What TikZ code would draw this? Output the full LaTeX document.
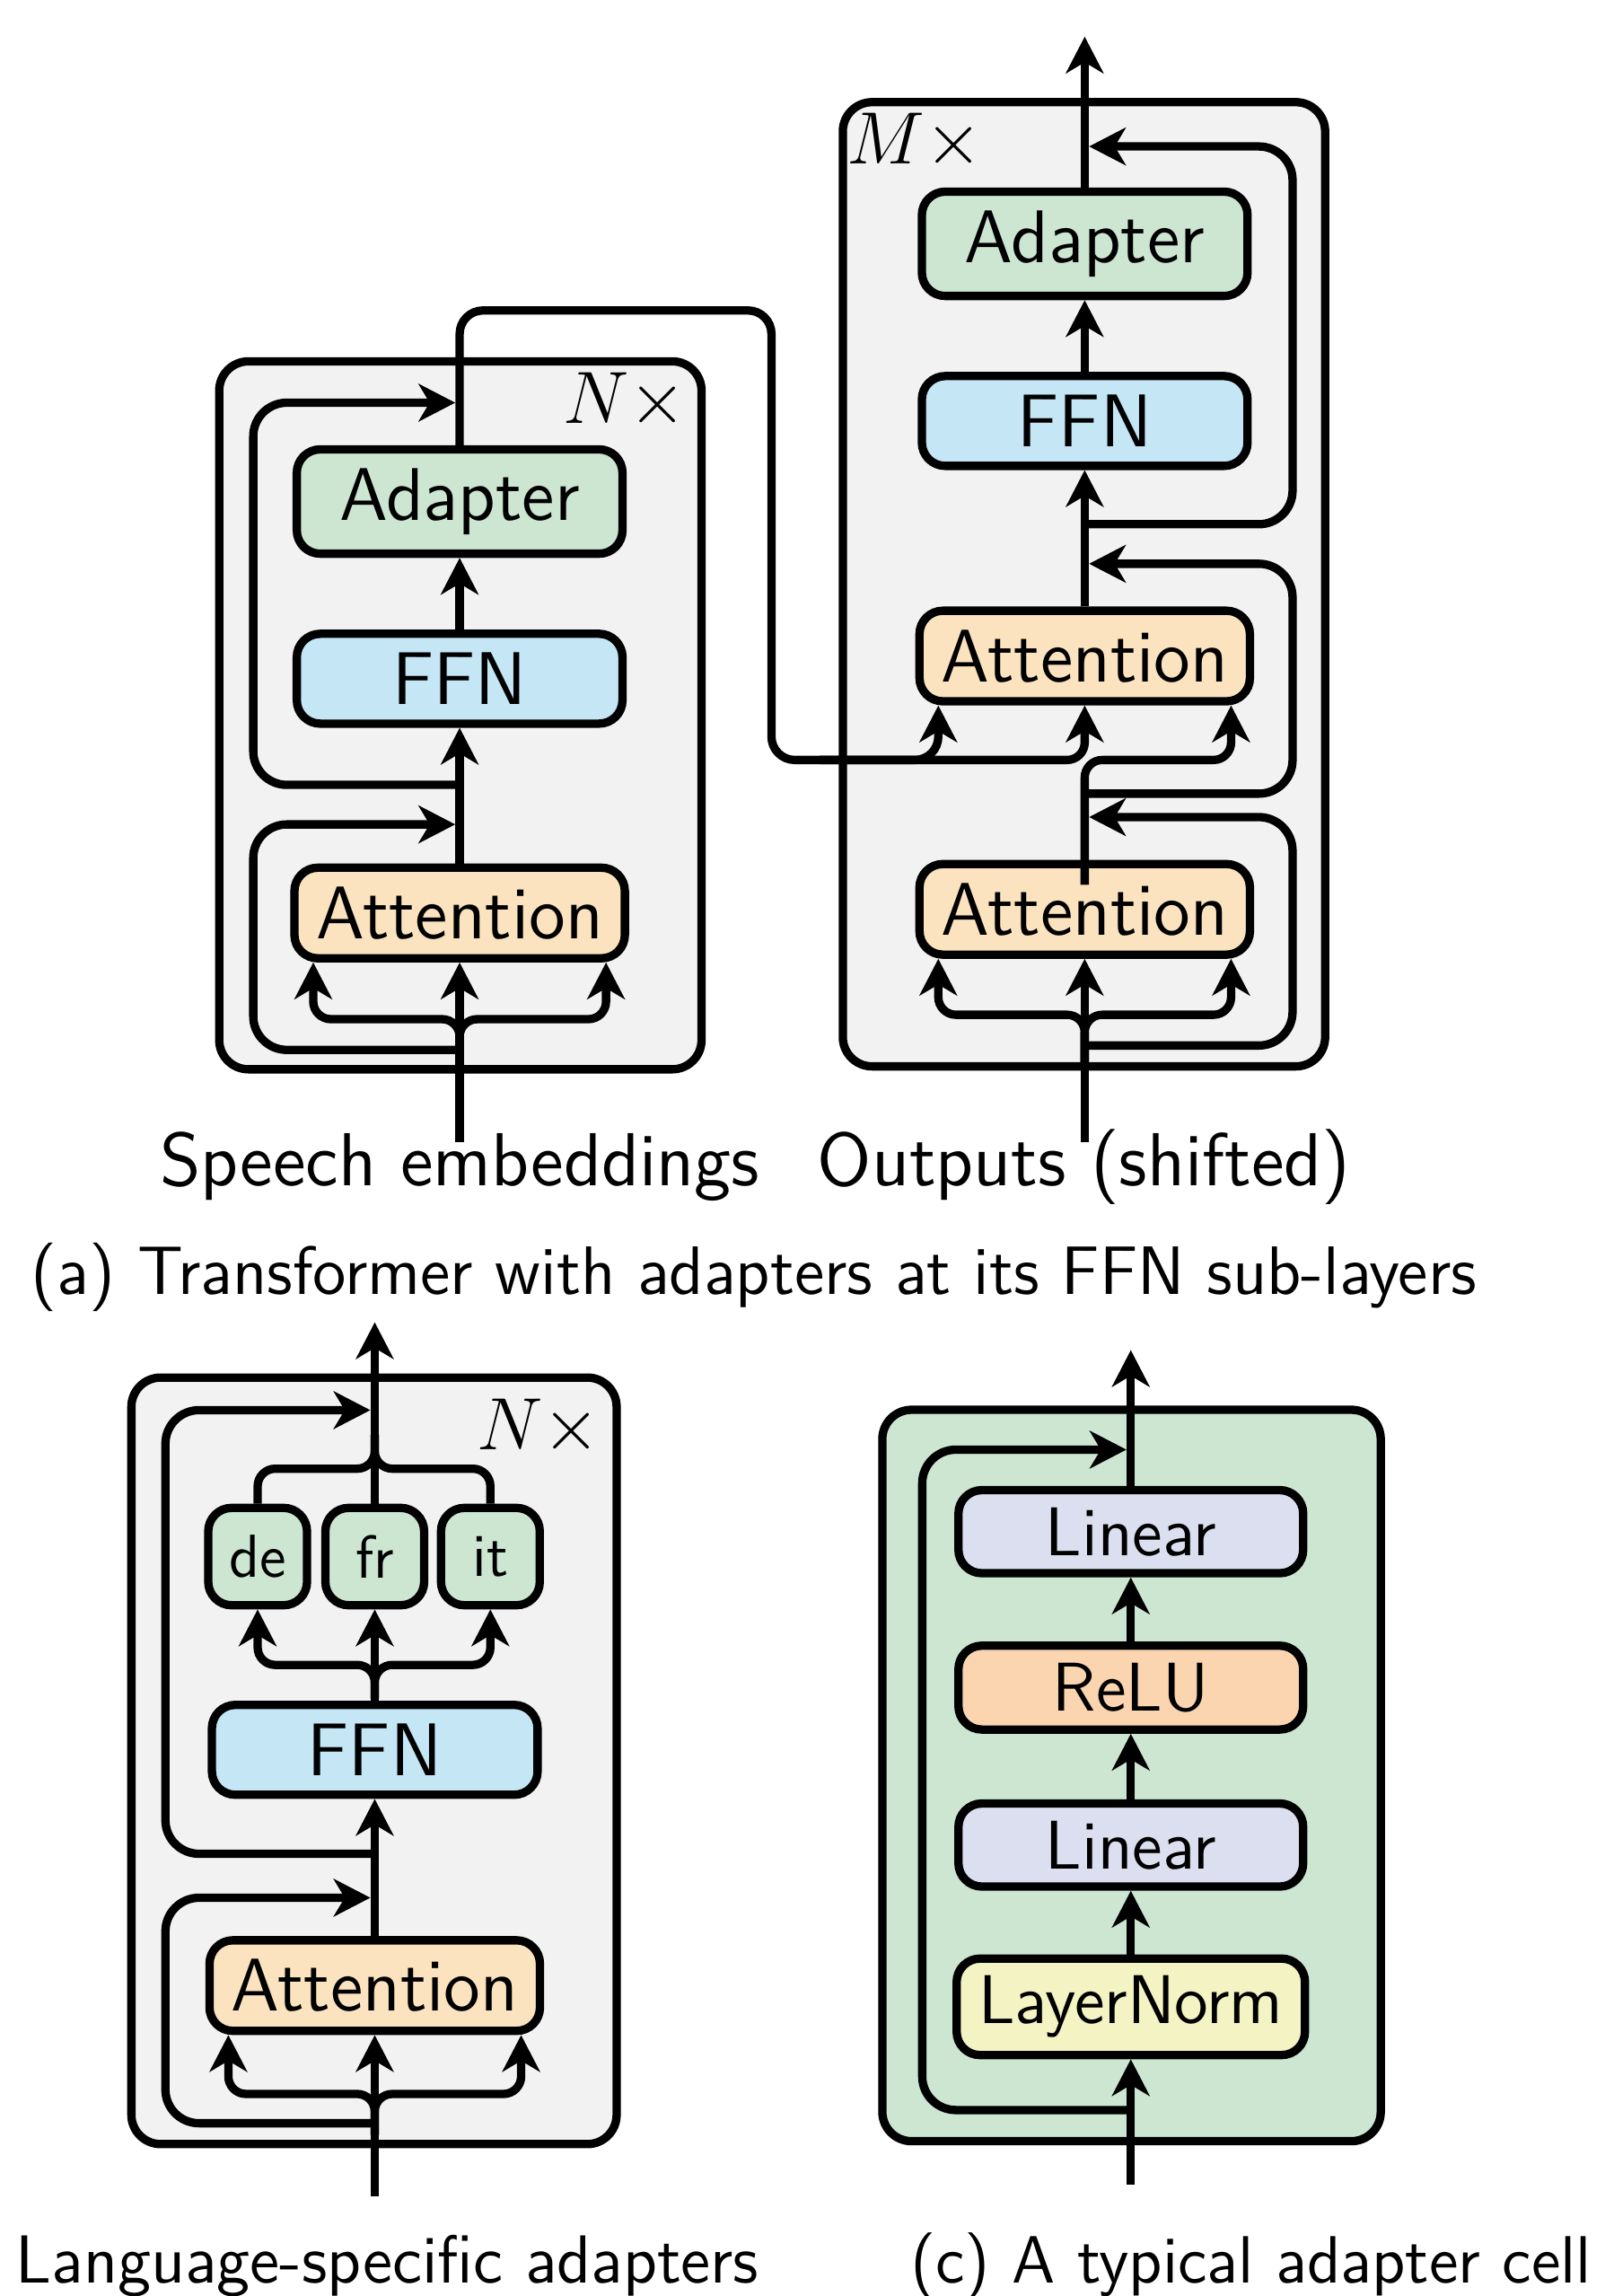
\documentclass[tikz,border=0pt]{standalone}
\usetikzlibrary{arrows.meta}
\definecolor{bgGray}{HTML}{F2F2F2}
\definecolor{adaGreen}{HTML}{CCE6D1}
\definecolor{ffnBlue}{HTML}{C4E6F5}
\definecolor{attPeach}{HTML}{FBE3BF}
\definecolor{linLav}{HTML}{DCDFEF}
\definecolor{reluOr}{HTML}{FAD5B0}
\definecolor{lnYel}{HTML}{F3F3C3}
\begin{document}
\begin{tikzpicture}[x=0.1mm,y=-0.1mm, line width=0.57mm,
  >={Stealth[length=2.5mm,width=2.56mm,inset=0.75mm]},
  blk/.style={draw, line width=0.57mm, rounded corners=1.6mm, inner xsep=1.5mm, inner ysep=1.3mm, minimum width=22.25mm, font=\sffamily\fontsize{14.5}{17}\selectfont},
  cblk/.style={blk, inner ysep=1.18mm, minimum width=23.55mm, font=\sffamily\fontsize{13.4}{16}\selectfont},
  lang/.style={draw, line width=0.57mm, rounded corners=1.6mm, minimum width=6.75mm, minimum height=6.65mm, inner sep=0pt, fill=adaGreen, font=\sffamily\fontsize{11.8}{14}\selectfont},
  panel/.style={draw, line width=0.57mm, rounded corners=2mm, inner sep=0pt},
  resid/.style={->, rounded corners=2.3mm},
  br/.style={->, rounded corners=1.2mm},
  lbl/.style={font=\sffamily\fontsize{14.6}{17}\selectfont, anchor=base, inner sep=0pt},
  capt/.style={font=\sffamily\fontsize{13.2}{16}\selectfont, anchor=base west, inner sep=0pt},
  rep/.style={font=\fontsize{13.8}{16}\selectfont, inner sep=0pt}
]
\useasboundingbox (0,0) rectangle (1096,1568);

% ---------- (a) encoder ----------
\node[panel, fill=bgGray, minimum width=32.95mm, minimum height=48.35mm] (encBox) at (314.5,488.5) {};
\node[blk, fill=adaGreen] (eAda) at (314,342.5) {Adapter};
\node[blk, fill=ffnBlue] (eFFN) at (314,463.5) {FFN};
\node[blk, fill=attPeach] (eAtt) at (314,623.5) {Attention};
\node[rep] (eRep) at (427,274) {$N\times$};

% ---------- (a) decoder ----------
\node[panel, fill=bgGray, minimum width=32.95mm, minimum height=65.85mm] (decBox) at (740.5,399) {};
\node[blk, fill=adaGreen] (dAda) at (741,166.5) {Adapter};
\node[blk, fill=ffnBlue] (dFFN) at (741,287.5) {FFN};
\node[blk, fill=attPeach] (dCA) at (741,448) {Attention};
\node[blk, fill=attPeach] (dSA) at (741,621) {Attention};
\node[rep] (dRep) at (625,97) {$M\times$};

% encoder connectors
\coordinate (eIn) at (314,780);
\draw[->] (eIn) -- (eAtt.south);
\draw[br] (314,728) -- (314,696) -| ([xshift=-10mm]eAtt.south);
\draw[br] (314,728) -- (314,696) -| ([xshift=10mm]eAtt.south);
\draw[resid] (314,717) -- (173,717) -- (173,563) -- (311,563);
\draw[->] (eAtt.north) -- (eFFN.south);
\draw[resid] (314,536) -- (173,536) -- (173,275) -- (311,275);
\draw[->] (eFFN.north) -- (eAda.south);

% encoder to decoder
\draw[->, rounded corners=1.6mm] (eAda.north) -- (314,212) -- (527,212) -- (527,519) -| ([xshift=-10mm]dCA.south);
\draw[->, rounded corners=1.2mm] (560,519) -| (dCA.south);

% decoder connectors
\coordinate (dIn) at (741,780);
\draw[->] (dIn) -- (dSA.south);
\draw[br] (741,728) -- (741,693) -| ([xshift=-10mm]dSA.south);
\draw[br] (741,728) -- (741,693) -| ([xshift=10mm]dSA.south);
\draw[resid] (741,714) -- (883,714) -- (883,558) -- (744,558);
\draw[br] ([yshift=-1.7mm]dSA.north) -- (741,519) -| ([xshift=10mm]dCA.south);
\draw[resid] (741,542) -- (883,542) -- (883,385) -- (744,385);
\draw[->] (dCA.north) -- (dFFN.south);
\draw[resid] (741,358) -- (883,358) -- (883,100) -- (744,100);
\draw[->] (dFFN.north) -- (dAda.south);
\coordinate (dOut) at (741,25);
\draw[->] (dAda.north) -- (dOut);

\node[lbl] (lSpeech) at (314,810) {Speech embeddings};
\node[lbl] (lOut) at (740.5,810) {Outputs (shifted)};
\node[lbl, font=\sffamily\fontsize{13.3}{16}\selectfont] (capA) at (515,884) {(a) Transformer with adapters at its FFN sub-layers};

% ---------- (b) ----------
\node[panel, fill=bgGray, minimum width=33.15mm, minimum height=52.35mm] (bBox) at (255.5,1202.5) {};
\node[lang] (de) at (176,1063) {de};
\node[lang] (fr) at (256,1063) {fr};
\node[lang] (it) at (335,1063) {it};
\node[blk, fill=ffnBlue] (bFFN) at (256,1195) {FFN};
\node[blk, fill=attPeach] (bAtt) at (256,1356) {Attention};
\node[rep] (bRep) at (368,975) {$N\times$};

\coordinate (bIn) at (256,1500);
\draw[->] (bIn) -- (bAtt.south);
\draw[br] (256,1458) -- (256,1430) -| ([xshift=-10mm]bAtt.south);
\draw[br] (256,1458) -- (256,1430) -| ([xshift=10mm]bAtt.south);
\draw[resid] (256,1450) -- (113,1450) -- (113,1296) -- (253,1296);
\draw[->] (bAtt.north) -- (bFFN.south);
\draw[resid] (256,1266) -- (113,1266) -- (113,963) -- (253,963);
\draw[->] (bFFN.north) -- (fr.south);
\draw[br] (256,1160) -- (256,1137) -| (de.south);
\draw[br] (256,1160) -- (256,1137) -| (it.south);
\draw[rounded corners=1.2mm] (de.north) |- (256,1003) -- (256,980);
\draw[rounded corners=1.2mm] (it.north) |- (256,1003) -- (256,980);
\coordinate (bOut) at (256,903);
\draw[->] (fr.north) -- (bOut);
\node[capt] (capB) at (8,1559) {Language-specific adapters};

% ---------- (c) ----------
\node[panel, fill=adaGreen, minimum width=34.05mm, minimum height=49.95mm] (cBox) at (773,1212.5) {};
\node[cblk, fill=lnYel] (cLN) at (772.5,1370.5) {LayerNorm};
\node[cblk, fill=linLav] (cLa) at (772.5,1260) {Linear};
\node[cblk, fill=reluOr] (cRe) at (772.5,1152.5) {ReLU};
\node[cblk, fill=linLav] (cLb) at (772.5,1046) {Linear};
\coordinate (cIn) at (772.5,1492);
\draw[->] (cIn) -- (cLN.south);
\draw[resid] (772.5,1441) -- (630,1441) -- (630,990) -- (769.5,990);
\draw[->] (cLN.north) -- (cLa.south);
\draw[->] (cLa.north) -- (cRe.south);
\draw[->] (cRe.north) -- (cLb.south);
\coordinate (cOut) at (772.5,922);
\draw[->] (cLb.north) -- (cOut);
\node[capt, font=\sffamily\fontsize{13}{16}\selectfont] (capC) at (619,1559) {(c) A typical adapter cell};
\end{tikzpicture}
\end{document}
